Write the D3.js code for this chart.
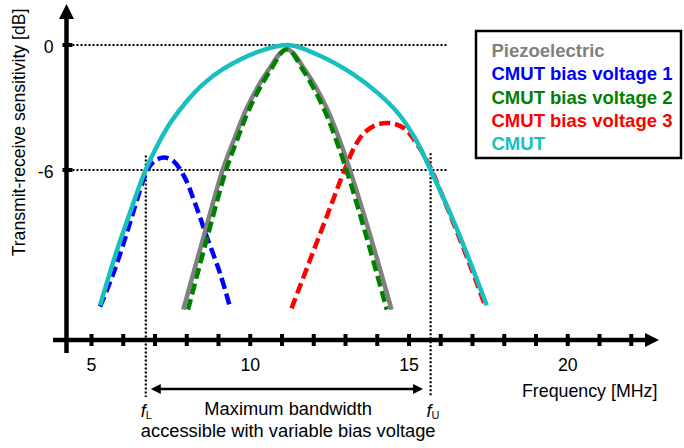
<!DOCTYPE html>
<html>
<head>
<meta charset="utf-8">
<script src="https://cdn.jsdelivr.net/npm/d3@7"></script>
<style>
  html, body { margin: 0; padding: 0; background: #fff; }
  svg { display: block; }
</style>
</head>
<body>
<div id="chart"></div>
<script>
// ── data (frequency in MHz, sensitivity in dB) ───────────────────────────────
const piezoF = [7.89, 8.55, 9.13, 9.5, 9.9, 10.55, 11.15, 11.75, 12.4, 12.8, 13.14, 13.77, 14.45];
const piezoDb = [-12.7, -9.1, -6.0, -4.5, -3.0, -1.25, -0.2, -1.25, -3.0, -4.5, -6.0, -9.1, -12.7];

const bias1F = [5.27, 5.69, 6.11, 6.4, 6.63, 6.8, 7.0, 7.3, 7.6, 7.95, 8.25, 8.63, 9.05, 9.36];
const bias1Db = [-12.56, -10.96, -9.04, -7.6, -6.5, -5.9, -5.55, -5.4, -5.6, -6.4, -7.55, -9.2, -10.96, -12.56];

const bias2F = [8.04, 8.67, 9.24, 9.6, 9.99, 10.62, 11.15, 11.68, 12.3, 12.69, 13.03, 13.64, 14.3];
const bias2Db = [-12.7, -9.1, -6.0, -4.5, -3.0, -1.25, -0.2, -1.25, -3.0, -4.5, -6.0, -9.1, -12.7];

const bias3F = [11.3, 11.9, 12.5, 12.97, 13.3, 13.6, 14.0, 14.42, 14.85, 15.25, 15.66, 16.2, 16.82, 17.39];
const bias3Db = [-12.64, -10.25, -7.87, -6.0, -4.85, -4.2, -3.82, -3.75, -4.0, -4.75, -5.84, -7.8, -10.16, -12.48];

const cmutF = [5.27, 5.75, 6.2, 6.69, 7.1, 7.5, 8.0, 8.5, 9.15, 10.2, 11.2, 12.14, 13.2, 14.03, 14.66, 15.2, 15.68, 16.5, 17.45];
const cmutDb = [-12.5, -10.1, -8.1, -6.05, -4.75, -3.7, -2.7, -1.9, -1.15, -0.35, 0, -0.48, -1.36, -2.32, -3.28, -4.5, -6.0, -8.8, -12.5];

const xTicks = [5, 6, 7, 8, 9, 10, 11, 12, 13, 14, 15, 16, 17, 18, 19, 20, 21, 22];
const xTickLabels = [5, 10, 15, 20];
const yTickLabels = [0, -6];

const fLower = 6.71;
const fUpper = 15.68;
const refLineEnd = 16.18;

const legendNames = ['Piezoelectric', 'CMUT bias voltage 1', 'CMUT bias voltage 2', 'CMUT bias voltage 3', 'CMUT'];
const legendColors = ['#808080', '#0000ff', '#008000', '#ff0000', '#17bfbf'];

// ── setup ─────────────────────────────────────────────────────────────────
const W = 684, H = 448;
const FONT = '"Liberation Sans", Arial, sans-serif';

const svg = d3.select('#chart').append('svg').attr('width', W).attr('height', H);

const x = d3.scaleLinear().domain([5, 20]).range([91.5, 567.75]);
const y = d3.scaleLinear().domain([0, -6]).range([45, 170]);

const AXIS_X = 66.5; // y-axis position
const AXIS_Y = 340; // x-axis position

// ── reference dotted lines ───────────────────────────────────────────────
function dotLine(x1, y1, x2, y2) {
  svg.append('line')
    .attr('x1', x1).attr('y1', y1).attr('x2', x2).attr('y2', y2)
    .attr('stroke', '#000').attr('stroke-width', 2.2).attr('stroke-dasharray', '2,2');
}
yTickLabels.forEach((t) => dotLine(AXIS_X + 6, y(t), x(refLineEnd), y(t)));
dotLine(x(fLower), y(-5.3), x(fLower), 397);
dotLine(x(fUpper), y(-5.2), x(fUpper), 397);

// ── curves ────────────────────────────────────────────────────────────────
const line = d3
  .line()
  .x((d) => x(d[0]))
  .y((d) => y(d[1]))
  .curve(d3.curveCatmullRom.alpha(0.5));

function curve(fs, dbs, color, dashed) {
  svg
    .append('path')
    .attr('d', line(fs.map((f, i) => [f, dbs[i]])))
    .attr('fill', 'none')
    .attr('stroke', color)
    .attr('stroke-width', 4.5)
    .attr('stroke-dasharray', dashed ? '11,5' : null);
}

curve(bias3F, bias3Db, legendColors[3], true);
curve(bias1F, bias1Db, legendColors[1], true);
curve(piezoF, piezoDb, legendColors[0], false);
curve(bias2F, bias2Db, legendColors[2], true);
curve(cmutF, cmutDb, legendColors[4], false);

// ── axes ──────────────────────────────────────────────────────────────────
svg.append('line').attr('x1', AXIS_X).attr('x2', AXIS_X).attr('y1', 17).attr('y2', 353)
  .attr('stroke', '#000').attr('stroke-width', 4.5);
svg.append('path').attr('d', `M${AXIS_X},4 L${AXIS_X - 7.5},19 L${AXIS_X + 7.5},19 Z`).attr('fill', '#000');

svg.append('line').attr('x1', 53).attr('x2', 647).attr('y1', AXIS_Y).attr('y2', AXIS_Y)
  .attr('stroke', '#000').attr('stroke-width', 4.5);
svg.append('path').attr('d', `M659,${AXIS_Y} L645,${AXIS_Y - 7} L645,${AXIS_Y + 7} Z`).attr('fill', '#000');

xTicks.forEach((t) => {
  svg.append('rect').attr('x', x(t) - 2).attr('y', AXIS_Y - 6).attr('width', 4).attr('height', 12).attr('fill', '#000');
});
xTickLabels.forEach((t) => {
  svg.append('text').attr('x', x(t)).attr('y', 371).attr('text-anchor', 'middle')
    .attr('font-family', FONT).attr('font-size', '17.7px').attr('fill', '#000').text(t);
});

yTickLabels.forEach((t) => {
  svg.append('rect').attr('x', AXIS_X - 4).attr('y', y(t) - 2).attr('width', 10).attr('height', 4).attr('fill', '#000');
  svg.append('text').attr('x', 53.5).attr('y', y(t) + 8).attr('text-anchor', 'end')
    .attr('font-family', FONT).attr('font-size', '17.7px').attr('fill', '#000').text(t);
});

svg.append('text')
  .attr('transform', 'translate(24.5,132.5) rotate(-90)')
  .attr('text-anchor', 'middle')
  .attr('font-family', FONT).attr('font-size', '17.6px').attr('fill', '#000')
  .text('Transmit-receive sensitivity [dB]');

svg.append('text').attr('x', 522).attr('y', 397)
  .attr('font-family', FONT).attr('font-size', '17.8px').attr('fill', '#000')
  .text('Frequency [MHz]');

// ── bandwidth annotation ─────────────────────────────────────────────────
const arrY = 389;
const aL = x(fLower) + 5, aR = x(fUpper) - 7.5;
svg.append('line').attr('x1', aL + 8).attr('x2', aR - 8).attr('y1', arrY).attr('y2', arrY)
  .attr('stroke', '#000').attr('stroke-width', 2.3);
svg.append('path').attr('d', `M${aL},${arrY} L${aL + 10},${arrY - 5} L${aL + 10},${arrY + 5} Z`).attr('fill', '#000');
svg.append('path').attr('d', `M${aR},${arrY} L${aR - 10},${arrY - 5} L${aR - 10},${arrY + 5} Z`).attr('fill', '#000');

function fLabel(xPos, sub) {
  const t = svg.append('text').attr('x', xPos).attr('y', 417)
    .attr('font-family', FONT).attr('font-size', '18px').attr('fill', '#000');
  t.append('tspan').attr('font-style', 'italic').text('f');
  t.append('tspan').attr('font-size', '11px').attr('dy', 1.5).text(sub);
}
fLabel(x(fLower) - 5, 'L');
fLabel(x(fUpper) - 4, 'U');

const midX = (x(fLower) + x(fUpper)) / 2;
svg.append('text').attr('x', midX).attr('y', 415).attr('text-anchor', 'middle')
  .attr('font-family', FONT).attr('font-size', '18.3px').attr('fill', '#000')
  .text('Maximum bandwidth');
svg.append('text').attr('x', midX).attr('y', 437).attr('text-anchor', 'middle')
  .attr('font-family', FONT).attr('font-size', '18.3px').attr('fill', '#000')
  .text('accessible with variable bias voltage');

// ── legend ────────────────────────────────────────────────────────────────
svg.append('rect').attr('x', 476).attr('y', 31).attr('width', 205).attr('height', 127)
  .attr('fill', '#fff').attr('stroke', '#000').attr('stroke-width', 2.5);
legendNames.forEach((name, i) => {
  svg.append('text').attr('x', 491.5).attr('y', 57 + i * 23.3)
    .attr('font-family', FONT).attr('font-size', '18.5px').attr('font-weight', 'bold')
    .attr('fill', legendColors[i]).text(name);
});
</script>
</body>
</html>
